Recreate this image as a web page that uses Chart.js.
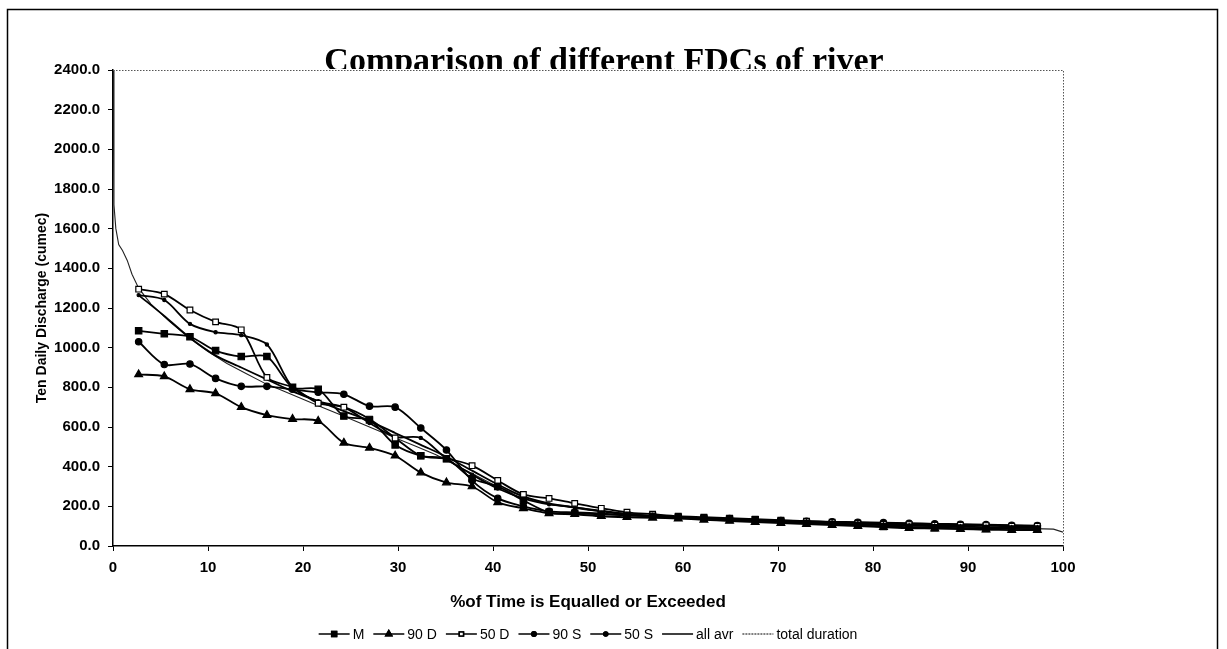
<!DOCTYPE html>
<html>
<head>
<meta charset="utf-8">
<script src="https://cdn.jsdelivr.net/npm/chart.js@4/dist/chart.umd.min.js"></script>
<style>
  html, body { margin: 0; padding: 0; background: #fff; }
  canvas { display: block; }
</style>
</head>
<body>
<canvas id="fdc" width="1227" height="649"></canvas>
<script>
// % of time equalled or exceeded (ten-daily periods)
const pctTime = [2.7, 5.4, 8.1, 10.8, 13.5, 16.2, 18.9, 21.6, 24.3, 27.0, 29.7, 32.4, 35.1, 37.8, 40.5, 43.2, 45.9, 48.6,
  51.4, 54.1, 56.8, 59.5, 62.2, 64.9, 67.6, 70.3, 73.0, 75.7, 78.4, 81.1, 83.8, 86.5, 89.2, 91.9, 94.6, 97.3];

const seriesM    = [1085, 1070, 1055, 985, 955, 955, 800, 790, 655, 635, 510, 455, 440, 340, 300, 230, 170, 165,
  160, 155, 150, 145, 140, 135, 132, 125, 115, 110, 105, 98, 95, 92, 90, 88, 86, 85];
const series90D  = [865, 855, 790, 770, 700, 660, 640, 630, 520, 495, 455, 370, 320, 300, 220, 190, 165, 160,
  150, 145, 142, 138, 132, 126, 120, 115, 110, 105, 100, 95, 90, 88, 85, 82, 80, 80];
const series50D  = [1295, 1270, 1190, 1130, 1090, 850, 800, 720, 700, 640, 545, 455, 440, 405, 330, 260, 240, 215,
  190, 170, 160, 150, 145, 140, 135, 130, 125, 120, 115, 110, 108, 105, 105, 103, 100, 100];
const series90S  = [1030, 915, 918, 845, 805, 805, 790, 775, 765, 705, 700, 595, 484, 330, 240, 200, 175, 170,
  165, 155, 150, 145, 142, 138, 132, 128, 125, 122, 120, 118, 115, 112, 110, 108, 105, 103];
const series50S  = [1265, 1240, 1120, 1078, 1063, 1016, 800, 730, 700, 620, 550, 545, 440, 360, 290, 240, 210, 195,
  175, 160, 150, 146, 140, 135, 130, 125, 122, 120, 118, 115, 112, 110, 108, 105, 102, 100];
const seriesAvr  = [1265, 1160, 1050, 960, 900, 840, 780, 730, 680, 630, 570, 510, 450, 380, 310, 250, 215, 195,
  178, 162, 150, 145, 140, 133, 128, 123, 118, 114, 110, 106, 103, 100, 97, 95, 93, 92];

// total duration curve (all records)
const totalPct = [0, 0.1, 0.3, 0.6, 1.0, 1.5, 2.0, 2.7, 4, 6, 8, 10, 12, 14, 16, 18, 20, 22, 24, 26, 28, 30, 32, 34, 36,
  38, 40, 42, 44, 46, 48, 50, 55, 60, 65, 70, 75, 80, 85, 90, 95, 99, 100];
const totalQ = [2400, 1720, 1600, 1520, 1490, 1440, 1370, 1300, 1220, 1130, 1050, 980, 920, 870, 820, 780, 740, 700,
  660, 620, 580, 540, 500, 460, 410, 360, 310, 270, 235, 210, 195, 180, 160, 145, 130, 120, 112, 105, 100, 95, 90, 85, 70];

const xTicks = [0, 10, 20, 30, 40, 50, 60, 70, 80, 90, 100];
const yTicks = [0, 200, 400, 600, 800, 1000, 1200, 1400, 1600, 1800, 2000, 2200, 2400];

const pts = (xs, ys) => xs.map((x, i) => ({ x, y: ys[i] }));

const styles = [
  { label: 'M', data: pts(pctTime, seriesM), pointStyle: 'rect', pointRadius: 4.5, fill: '#000' },
  { label: '90 D', data: pts(pctTime, series90D), pointStyle: 'triangle', pointRadius: 4.5, fill: '#000' },
  { label: '50 D', data: pts(pctTime, series50D), pointStyle: 'rect', pointRadius: 4, fill: '#fff' },
  { label: '90 S', data: pts(pctTime, series90S), pointStyle: 'circle', pointRadius: 3.2, fill: '#000' },
  { label: '50 S', data: pts(pctTime, series50S), pointStyle: 'circle', pointRadius: 1.6, fill: '#000' },
  { label: 'all avr', data: pts(pctTime, seriesAvr), pointStyle: 'circle', pointRadius: 0, fill: '#000' },
  { label: 'total duration', data: pts(totalPct, totalQ), pointStyle: 'circle', pointRadius: 0, fill: '#000', thin: true }
];

const datasets = styles.map((s) => ({
  label: s.label,
  data: s.data,
  showLine: true,
  borderColor: s.thin ? '#222' : '#000',
  borderWidth: s.thin ? 1.1 : 1.8,
  pointStyle: s.pointStyle,
  pointRadius: s.pointRadius,
  pointBackgroundColor: s.fill,
  pointBorderColor: '#000',
  pointBorderWidth: 1.2,
  tension: s.thin ? 0 : 0.3
}));

const SANS = '"Liberation Sans", Arial, sans-serif';

const decorPlugin = {
  id: 'decor',
  afterDraw(chart) {
    const { ctx, chartArea: a } = chart;
    ctx.save();

    // outer frame
    ctx.strokeStyle = '#000';
    ctx.lineWidth = 1.5;
    ctx.strokeRect(7.5, 9.5, 1210, 660);

    // dotted top and right border of plot area
    ctx.setLineDash([1.5, 1.5]);
    ctx.lineWidth = 1;
    ctx.strokeStyle = '#555';
    ctx.beginPath();
    ctx.moveTo(a.left, a.top + 0.5);
    ctx.lineTo(a.right + 0.5, a.top + 0.5);
    ctx.lineTo(a.right + 0.5, a.bottom);
    ctx.stroke();
    ctx.setLineDash([]);

    // title, its bottom edge hidden behind the plot area
    ctx.save();
    ctx.beginPath();
    ctx.rect(0, 0, chart.width, a.top - 1);
    ctx.clip();
    ctx.fillStyle = '#000';
    ctx.font = 'bold 34px "Liberation Serif", "Times New Roman", serif';
    ctx.textAlign = 'center';
    ctx.textBaseline = 'alphabetic';
    ctx.fillText('Comparison of different FDCs of river', 604, a.top + 1);
    ctx.restore();

    // axis titles
    ctx.fillStyle = '#000';
    ctx.textAlign = 'center';
    ctx.textBaseline = 'middle';
    ctx.font = 'bold 17px ' + SANS;
    ctx.fillText('%of Time is Equalled or Exceeded', (a.left + a.right) / 2, 602);

    ctx.save();
    ctx.translate(42, (a.top + a.bottom) / 2);
    ctx.rotate(-Math.PI / 2);
    ctx.font = 'bold 14px ' + SANS;
    ctx.fillText('Ten Daily Discharge (cumec)', 0, 0);
    ctx.restore();

    // legend: line sample with marker, then label
    ctx.font = '14px ' + SANS;
    const lineLen = 31, gap = 3, sep = 9;
    const widths = styles.map((s) => lineLen + gap + ctx.measureText(s.label).width);
    const total = widths.reduce((p, w) => p + w, 0) + sep * (styles.length - 1);
    let x = (a.left + a.right) / 2 - total / 2;
    const y = 634;
    styles.forEach((s, i) => {
      ctx.strokeStyle = '#000';
      ctx.lineWidth = s.thin ? 1 : 1.5;
      if (s.thin) ctx.setLineDash([2, 1]);
      ctx.beginPath();
      ctx.moveTo(x, y);
      ctx.lineTo(x + lineLen, y);
      ctx.stroke();
      ctx.setLineDash([]);
      if (s.pointRadius > 0) {
        const r = Math.max(2, s.pointRadius - 1);
        Chart.helpers.drawPoint(ctx, { pointStyle: s.pointStyle, radius: r, borderWidth: 1 }, x + lineLen / 2, y);
        ctx.fillStyle = s.fill;
        ctx.fill();
        ctx.stroke();
      }
      ctx.fillStyle = '#000';
      ctx.textAlign = 'left';
      ctx.fillText(s.label, x + lineLen + gap, y + 1);
      x += widths[i] + sep;
    });

    ctx.restore();
  }
};

new Chart(document.getElementById('fdc'), {
  type: 'scatter',
  data: { datasets },
  plugins: [decorPlugin],
  options: {
    responsive: false,
    animation: false,
    layout: { padding: { left: 10, top: 70, right: 164, bottom: 43 } },
    plugins: { legend: { display: false }, title: { display: false }, tooltip: { enabled: false } },
    scales: {
      x: {
        type: 'linear', min: 0, max: 100,
        afterBuildTicks: (scale) => { scale.ticks = xTicks.map((v) => ({ value: v })); },
        afterFit: (scale) => { scale.height = 60; },
        ticks: { color: '#000', font: { family: SANS, size: 15, weight: 'bold' }, padding: 8 },
        grid: { display: true, drawOnChartArea: false, drawTicks: true, tickLength: 5, color: '#000' },
        border: { display: true, color: '#000', width: 1.5 }
      },
      y: {
        type: 'linear', min: 0, max: 2400,
        afterBuildTicks: (scale) => { scale.ticks = yTicks.map((v) => ({ value: v })); },
        afterFit: (scale) => { scale.width = 103; },
        ticks: { color: '#000', font: { family: SANS, size: 15, weight: 'bold' }, padding: 8,
          callback: (v) => Number(v).toFixed(1) },
        grid: { display: true, drawOnChartArea: false, drawTicks: true, tickLength: 5, color: '#000' },
        border: { display: true, color: '#000', width: 1.5 }
      }
    }
  }
});
</script>
</body>
</html>
